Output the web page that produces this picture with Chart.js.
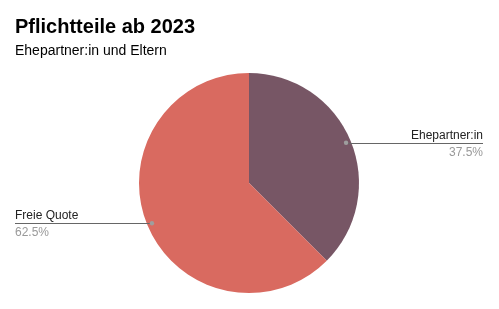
<!DOCTYPE html>
<html lang="de">
<head>
  <meta charset="UTF-8" />
  <title>Pflichtteile ab 2023</title>
  <script src="https://cdn.jsdelivr.net/npm/chart.js"></script>
  <style>
    html, body { margin: 0; padding: 0; background: #fff; }
    #wrap { width: 499px; height: 309px; position: relative; }
  </style>
</head>
<body>
  <div id="wrap"><canvas id="pie" width="499" height="309"></canvas></div>

  <script>
    // data
    const labels = ["Ehepartner:in", "Freie Quote"];
    const shares = [37.5, 62.5];
    const colors = ["#775665", "#d96a60"];

    const FONT = '"Liberation Sans", Arial, sans-serif';

    // titles + leader-line labels
    const decor = {
      id: 'decor',
      afterDraw(chart) {
        const ctx = chart.ctx;
        ctx.save();
        ctx.fillStyle = '#000';
        ctx.textAlign = 'left';
        ctx.textBaseline = 'alphabetic';
        ctx.font = 'bold 20px ' + FONT;
        ctx.fillText('Pflichtteile ab 2023', 15, 33);
        ctx.font = '14px ' + FONT;
        ctx.fillText('Ehepartner:in und Eltern', 15, 55);

        const meta = chart.getDatasetMeta(0);
        meta.data.forEach((arc, i) => {
          const p = arc.getProps(['x', 'y', 'startAngle', 'endAngle', 'outerRadius'], true);
          const mid = (p.startAngle + p.endAngle) / 2;
          const r = p.outerRadius * 0.955;
          const dx = p.x + Math.cos(mid) * r;
          const dy = p.y + Math.sin(mid) * r;
          const right = Math.cos(mid) >= 0;
          const endX = right ? 483 : 15;

          ctx.strokeStyle = '#666';
          ctx.lineWidth = 1;
          ctx.beginPath();
          ctx.moveTo(dx, Math.round(dy) + 0.5);
          ctx.lineTo(endX, Math.round(dy) + 0.5);
          ctx.stroke();

          ctx.fillStyle = '#9e9e9e';
          ctx.beginPath();
          ctx.arc(dx, dy, 2.2, 0, Math.PI * 2);
          ctx.fill();

          ctx.textAlign = right ? 'right' : 'left';
          ctx.font = '12px ' + FONT;
          ctx.fillStyle = '#222';
          ctx.fillText(labels[i], endX, Math.round(dy) - 4);
          ctx.fillStyle = '#999';
          ctx.fillText(shares[i].toFixed(1) + '%', endX, Math.round(dy) + 13);
        });
        ctx.restore();
      }
    };

    new Chart(document.getElementById('pie').getContext('2d'), {
      type: 'pie',
      data: {
        labels: labels,
        datasets: [{
          data: shares,
          backgroundColor: colors,
          borderWidth: 0
        }]
      },
      options: {
        responsive: false,
        animation: false,
        layout: { padding: { top: 73, bottom: 16, left: 139, right: 140 } },
        plugins: {
          legend: { display: false },
          tooltip: { enabled: false },
          title: { display: false }
        }
      },
      plugins: [decor]
    });
  </script>
</body>
</html>
